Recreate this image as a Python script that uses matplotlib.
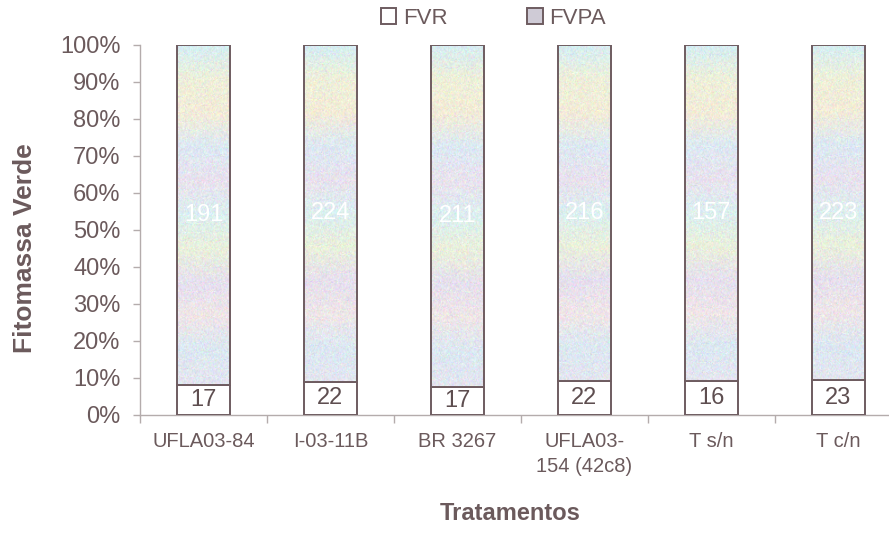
import numpy as np
import matplotlib.pyplot as plt
from matplotlib import font_manager
from matplotlib.colors import to_rgb

tratamentos = ["UFLA03-84", "I-03-11B", "BR 3267", "UFLA03-\n154 (42c8)", "T s/n", "T c/n"]
fvr = [17, 22, 17, 22, 16, 23]
fvpa = [191, 224, 211, 216, 157, 223]

fvr = np.array(fvr, dtype=float)
fvpa = np.array(fvpa, dtype=float)
total = fvr + fvpa
fvr_pct = fvr / total * 100
fvpa_pct = fvpa / total * 100

txt = "#6b5a5c"
edge = "#6e5c60"
axis_grey = "#b4acac"

plt.rcParams['font.family'] = ['Liberation Sans', 'DejaVu Sans']

# narrow face for the category labels if it is around
try:
    font_manager.findfont("Liberation Sans Narrow", fallback_to_default=False)
    narrow = dict(family=['Liberation Sans Narrow', 'DejaVu Sans'], size=17)
except Exception:
    narrow = dict(family=['Liberation Sans', 'DejaVu Sans'], size=14.5)

fig = plt.figure(figsize=(8.89, 5.41), dpi=100)
ax = fig.add_axes([0.1575, 0.233, 0.8425, 0.684])

x = np.arange(len(tratamentos))
w = 0.42
b1 = ax.bar(x, fvr_pct, w, color="white", edgecolor=edge, linewidth=1.4, label="FVR", zorder=3)
b2 = ax.bar(x, fvpa_pct, w, bottom=fvr_pct, color="#cfcbd6", edgecolor=edge,
            linewidth=1.4, label="FVPA", zorder=3)

# pastel speckled fill for the FVPA segments
band_cols = ["#d6eef3", "#eef0da", "#f3ecd8", "#dde9f3", "#e9e2ee", "#dceff0",
             "#eaf0dc", "#e6e0ee", "#efe6e8", "#dce8f2", "#e4e6f0"]
bands = np.array([to_rgb(c) for c in band_cols])
rng = np.random.default_rng(3)
ny, nx = 300, 60
pos = np.linspace(0, len(bands) - 1, ny)
base = np.empty((ny, 3))
for k in range(3):
    base[:, k] = np.interp(pos, np.arange(len(bands)), bands[:, k])
for i, bar in enumerate(b2):
    tex = base[:, None, :] + rng.normal(0, 0.04, (ny, nx, 3))
    tex = np.clip(tex, 0, 1)
    x0 = bar.get_x()
    y0 = bar.get_y()
    im = ax.imshow(tex, extent=(x0, x0 + bar.get_width(), y0, y0 + bar.get_height()),
                   origin="upper", aspect="auto", interpolation="bilinear", zorder=3.5)
    im.set_clip_path(bar)
    bar.set_zorder(4)
    bar.set_facecolor("none")

for i in range(len(x)):
    ax.text(x[i], fvr_pct[i] / 2, f"{fvr[i]:.0f}", ha="center", va="center",
            fontsize=17, color="#5e4e50", zorder=5)
    ax.text(x[i], fvr_pct[i] + fvpa_pct[i] / 2, f"{fvpa[i]:.0f}", ha="center",
            va="center", fontsize=17, color="white", zorder=5)

ax.set_xlim(-0.5, 5.4)
ax.set_ylim(0, 100)
ax.set_yticks(np.arange(0, 101, 10))
ax.set_yticklabels([f"{v}%" for v in range(0, 101, 10)])
ax.tick_params(axis="y", labelsize=17, labelcolor=txt, color=axis_grey,
               length=5, width=1, pad=9)

ax.set_xticks(x)
ax.set_xticklabels(tratamentos, linespacing=1.45, **narrow)
ax.set_xticks(np.arange(-0.5, 5.5, 1), minor=True)
ax.tick_params(axis="x", which="major", length=0, pad=12, labelcolor=txt)
ax.tick_params(axis="x", which="minor", length=6, color=axis_grey, width=1)

for s in ["top", "right"]:
    ax.spines[s].set_visible(False)
for s in ["left", "bottom"]:
    ax.spines[s].set_color(axis_grey)
    ax.spines[s].set_linewidth(1)

ax.set_ylabel("Fitomassa Verde", fontsize=19, fontweight="bold", color=txt)
ax.yaxis.set_label_coords(-0.138, 0.45)
ax.set_xlabel("Tratamentos", fontsize=17, fontweight="bold", color=txt)
ax.xaxis.set_label_coords(0.494, -0.235)

leg = fig.legend(handles=[b1, b2], labels=["FVR", "FVPA"], loc="center",
                 bbox_to_anchor=(0.555, 0.966), ncol=2, frameon=False,
                 fontsize=16, handlelength=0.7, handleheight=0.7,
                 handletextpad=0.3, columnspacing=3.6)
for t in leg.get_texts():
    t.set_color(txt)
leg.legend_handles[1].set_facecolor("#cfcbd6")

fig.savefig("out.png", dpi=100)
